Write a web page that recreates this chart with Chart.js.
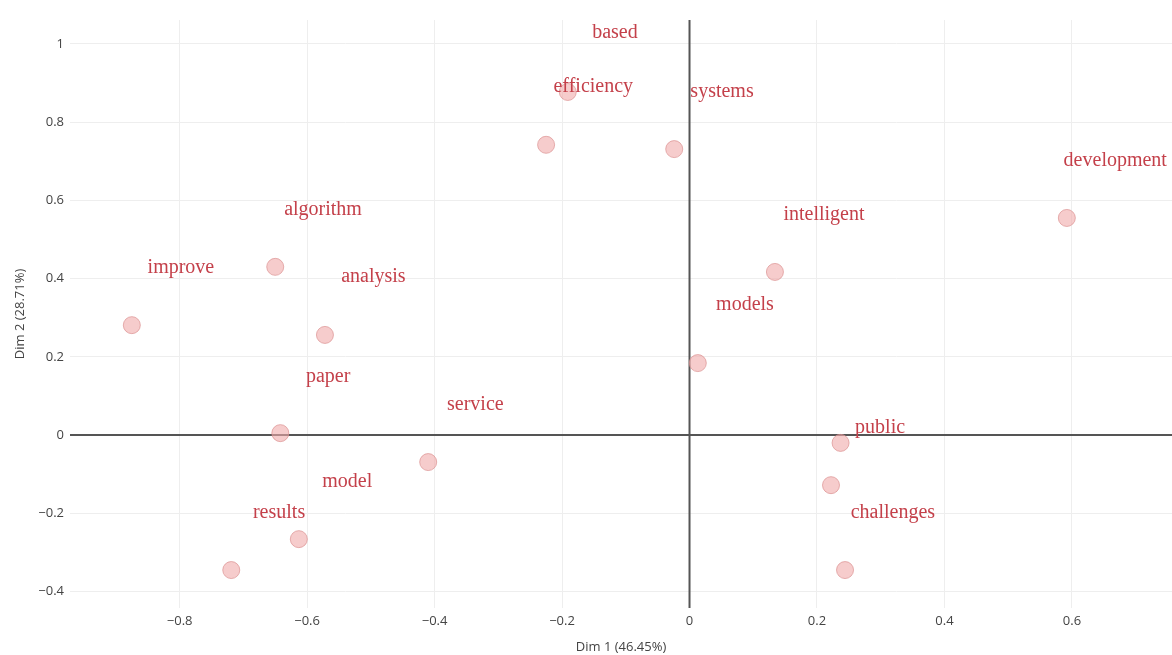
<!DOCTYPE html>
<html>
<head>
<meta charset="utf-8">
<script src="https://cdn.jsdelivr.net/npm/chart.js@4"></script>
<style>
html,body{margin:0;padding:0;background:#fff;}
#wrap{width:1172px;height:655px;position:relative;}
</style>
</head>
<body>
<div id="wrap"><canvas id="c" width="1172" height="655"></canvas></div>
<script>
// Point coordinates (Dim 1, Dim 2)
const pointX = [-0.875, -0.650, -0.572, -0.642, -0.410, -0.613, -0.719, -0.225, -0.191, -0.024, 0.134, 0.013, 0.592, 0.237, 0.222, 0.244];
const pointY = [0.281, 0.430, 0.256, 0.005, -0.069, -0.266, -0.345, 0.742, 0.877, 0.731, 0.417, 0.184, 0.555, -0.020, -0.128, -0.345];

// Word labels and their (repelled) placement coordinates
const words  = ["based", "efficiency", "systems", "development", "intelligent", "algorithm", "improve", "analysis", "models", "paper", "service", "public", "model", "results", "challenges"];
const wordX  = [-0.117, -0.151, 0.051, 0.668, 0.211, -0.575, -0.798, -0.496, 0.087, -0.567, -0.336, 0.299, -0.537, -0.644, 0.319];
const wordY  = [1.028, 0.890, 0.877, 0.701, 0.563, 0.575, 0.427, 0.404, 0.332, 0.148, 0.077, 0.020, -0.120, -0.199, -0.199];

const xTitle = "Dim 1 (46.45%)";
const yTitle = "Dim 2 (28.71%)";

const pts = pointX.map((x, i) => ({x: x, y: pointY[i]}));

const zeroLinePlugin = {
  id: 'zeroLines',
  beforeDatasetsDraw(chart) {
    const ctx = chart.ctx, a = chart.chartArea;
    const x0 = chart.scales.x.getPixelForValue(0);
    const y0 = chart.scales.y.getPixelForValue(0);
    ctx.save();
    ctx.strokeStyle = '#555';
    ctx.lineWidth = 2;
    ctx.beginPath();
    ctx.moveTo(x0, a.top); ctx.lineTo(x0, a.bottom);
    ctx.moveTo(a.left, y0); ctx.lineTo(a.right, y0);
    ctx.stroke();
    ctx.restore();
  }
};

const labelPlugin = {
  id: 'wordLabels',
  afterDatasetsDraw(chart) {
    const ctx = chart.ctx;
    const xs = chart.scales.x, ys = chart.scales.y;
    ctx.save();
    ctx.font = '20px "Liberation Serif", "Times New Roman", serif';
    ctx.fillStyle = '#c4404a';
    ctx.textAlign = 'center';
    ctx.textBaseline = 'middle';
    words.forEach((w, i) => {
      ctx.fillText(w, xs.getPixelForValue(wordX[i]), ys.getPixelForValue(wordY[i]));
    });
    ctx.restore();
  }
};

const minusFmt = v => {
  const s = Math.abs(v) < 1e-9 ? '0' : String(Math.round(v * 10) / 10);
  return s.replace('-', '\u2212');
};

const gridColor = c => c.tick && Math.abs(c.tick.value) < 1e-9 ? 'rgba(0,0,0,0)' : '#eeeeee';

new Chart(document.getElementById('c'), {
  type: 'scatter',
  data: {
    datasets: [{
      data: pts,
      pointRadius: 8.5,
      pointHoverRadius: 8.5,
      backgroundColor: 'rgba(240,170,170,0.6)',
      borderColor: 'rgba(220,145,145,0.7)',
      borderWidth: 1,
      clip: false
    }]
  },
  options: {
    responsive: false,
    animation: false,
    layout: {autoPadding: false, padding: {top: 20, right: 0, left: 0, bottom: 0}},
    plugins: {legend: {display: false}, tooltip: {enabled: false}},
    scales: {
      x: {
        type: 'linear',
        min: -0.972, max: 0.757,
        afterFit(s) { s.height = 47; s.paddingLeft = 0; s.paddingRight = 0; },
        border: {display: false},
        grid: {color: gridColor, drawTicks: false},
        ticks: {
          stepSize: 0.2, includeBounds: false, padding: 5,
          color: '#444', font: {family: '"Open Sans", sans-serif', size: 13},
          callback: v => minusFmt(v)
        },
        title: {display: true, text: xTitle, color: '#444', padding: {top: 1, bottom: 0},
          font: {family: '"Open Sans", sans-serif', size: 13}}
      },
      y: {
        type: 'linear',
        min: -0.442, max: 1.061,
        afterFit(s) { s.width = 70; s.paddingTop = 0; s.paddingBottom = 0; },
        border: {display: false},
        grid: {color: gridColor, drawTicks: false},
        ticks: {
          stepSize: 0.2, includeBounds: false, padding: 6,
          color: '#444', font: {family: '"Open Sans", sans-serif', size: 13},
          callback: v => minusFmt(v)
        },
        title: {display: true, text: yTitle, color: '#444', padding: {top: 12, bottom: 0},
          font: {family: '"Open Sans", sans-serif', size: 13}}
      }
    }
  },
  plugins: [zeroLinePlugin, labelPlugin]
});
</script>
</body>
</html>
